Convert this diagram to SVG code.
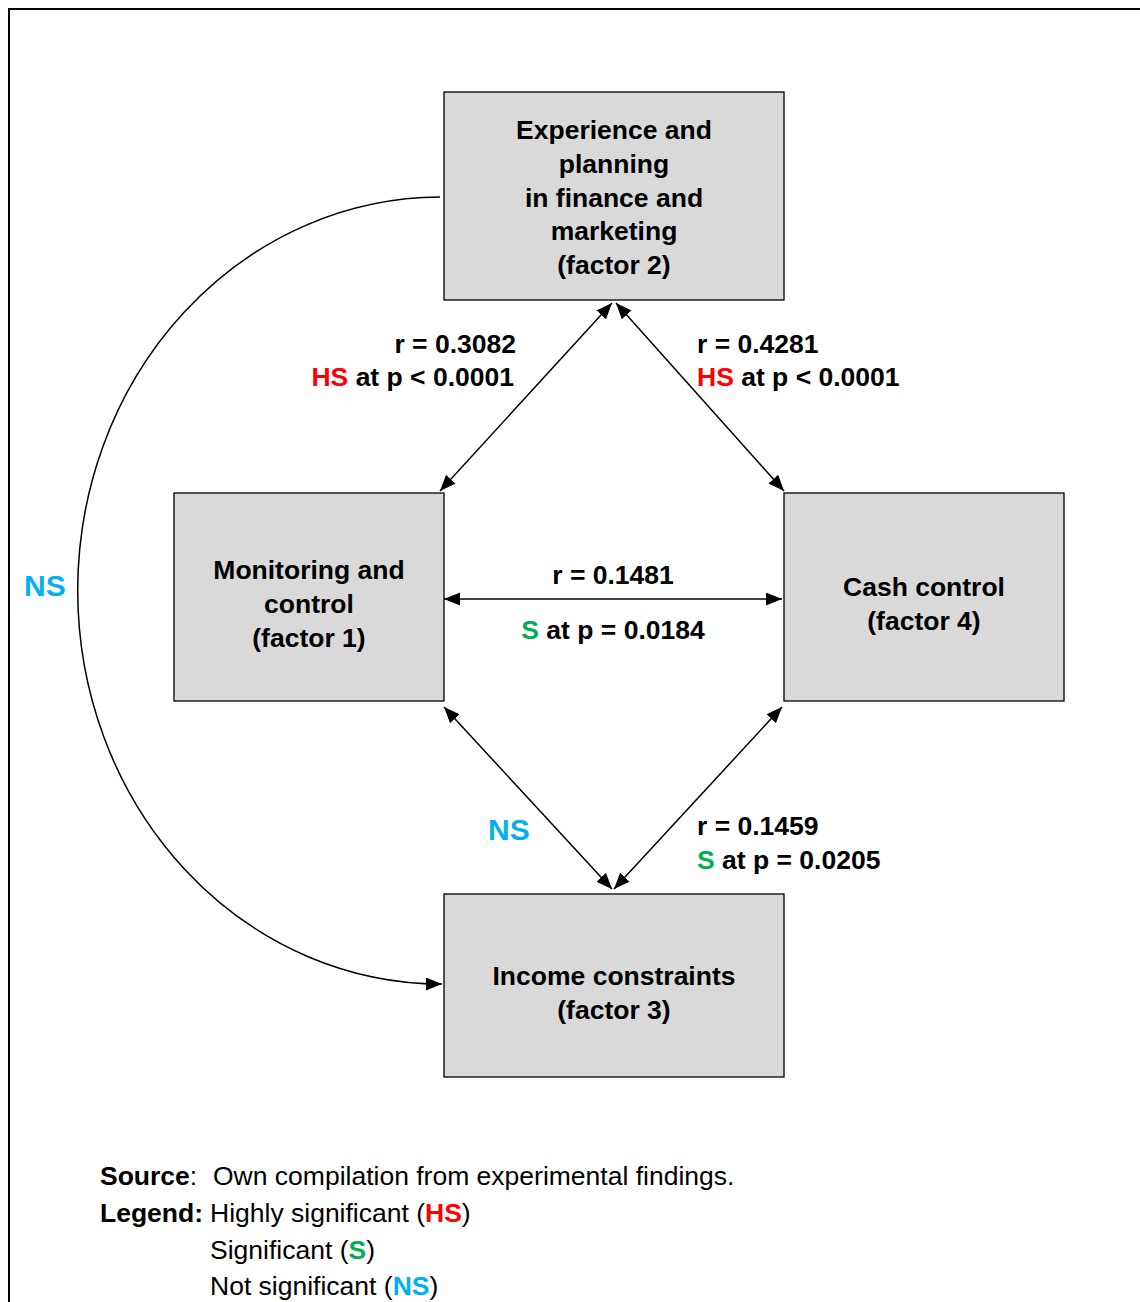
<svg xmlns="http://www.w3.org/2000/svg" width="1140" height="1302" viewBox="0 0 1140 1302">
<style>
.box{fill:#d9d9d9;stroke:#000;stroke-width:1.3}
.t{font-family:"Liberation Sans",Arial,sans-serif;font-weight:bold;font-size:26.5px;fill:#000}
.m{text-anchor:middle}
.n{font-family:"Liberation Sans",Arial,sans-serif;font-size:26.5px;fill:#000}
.ns{font-family:"Liberation Sans",Arial,sans-serif;font-weight:bold;font-size:30px;fill:#00b0f0}
.hs{fill:#ff0000;font-weight:bold}
.s{fill:#00b050;font-weight:bold}
.b{fill:#00b0f0;font-weight:bold}
.c{fill:none;stroke:#000;stroke-width:1.5}
</style>
<defs>
<marker id="ah" markerUnits="userSpaceOnUse" markerWidth="18" markerHeight="14" refX="16" refY="6.5" orient="auto-start-reverse" viewBox="0 0 18 14">
<path d="M0,0 L16,6.5 L0,13 z" fill="#000"/>
</marker>
</defs>
<rect width="1140" height="1302" fill="#fff"/>
<path d="M9,1302 V9 H1140" fill="none" stroke="#000" stroke-width="2"/>

<g id="connectors">
<line class="c" x1="612" y1="303" x2="440" y2="491" marker-start="url(#ah)" marker-end="url(#ah)"/>
<line class="c" x1="616" y1="303" x2="784" y2="491" marker-start="url(#ah)" marker-end="url(#ah)"/>
<line class="c" x1="444" y1="599" x2="782" y2="599" marker-start="url(#ah)" marker-end="url(#ah)"/>
<line class="c" x1="444" y1="707" x2="612" y2="889" marker-start="url(#ah)" marker-end="url(#ah)"/>
<line class="c" x1="782" y1="707" x2="614" y2="889" marker-start="url(#ah)" marker-end="url(#ah)"/>
<path class="c" d="M440,197 A363,393 0 0 0 442,984" marker-end="url(#ah)"/>
</g>

<g id="factor2">
<rect class="box" x="444" y="92" width="340" height="208"/>
<text class="t m" x="614" y="139">Experience and</text>
<text class="t m" x="614" y="173">planning</text>
<text class="t m" x="614" y="207">in finance and</text>
<text class="t m" x="614" y="240">marketing</text>
<text class="t m" x="614" y="274">(factor 2)</text>
</g>

<g id="factor1">
<rect class="box" x="174" y="493" width="270" height="208"/>
<text class="t m" x="309" y="579">Monitoring and</text>
<text class="t m" x="309" y="613">control</text>
<text class="t m" x="309" y="647">(factor 1)</text>
</g>

<g id="factor4">
<rect class="box" x="784" y="493" width="280" height="208"/>
<text class="t m" x="924" y="596">Cash control</text>
<text class="t m" x="924" y="630">(factor 4)</text>
</g>

<g id="factor3">
<rect class="box" x="444" y="894" width="340" height="183"/>
<text class="t m" x="614" y="985">Income constraints</text>
<text class="t m" x="614" y="1019">(factor 3)</text>
</g>

<g id="labels">
<text class="t" x="516" y="353" text-anchor="end">r = 0.3082</text>
<text class="t" x="514" y="386" text-anchor="end"><tspan class="hs">HS</tspan> at p &lt; 0.0001</text>
<text class="t" x="697" y="353">r = 0.4281</text>
<text class="t" x="697" y="386"><tspan class="hs">HS</tspan> at p &lt; 0.0001</text>
<text class="t m" x="613" y="584">r = 0.1481</text>
<text class="t m" x="613" y="639"><tspan class="s">S</tspan> at p = 0.0184</text>
<text class="t" x="697" y="835">r = 0.1459</text>
<text class="t" x="697" y="869"><tspan class="s">S</tspan> at p = 0.0205</text>
<text class="ns" x="488" y="840">NS</text>
<text class="ns" x="24" y="596">NS</text>
</g>

<g id="legend">
<text class="n" x="100" y="1185"><tspan font-weight="bold">Source</tspan>:</text>
<text class="n" x="213" y="1185">Own compilation from experimental findings.</text>
<text class="n" x="100" y="1222"><tspan font-weight="bold">Legend:</tspan></text>
<text class="n" x="210" y="1222">Highly significant (<tspan class="hs">HS</tspan>)</text>
<text class="n" x="210" y="1259">Significant (<tspan class="s">S</tspan>)</text>
<text class="n" x="210" y="1295">Not significant (<tspan class="b">NS</tspan>)</text>
</g>
</svg>
